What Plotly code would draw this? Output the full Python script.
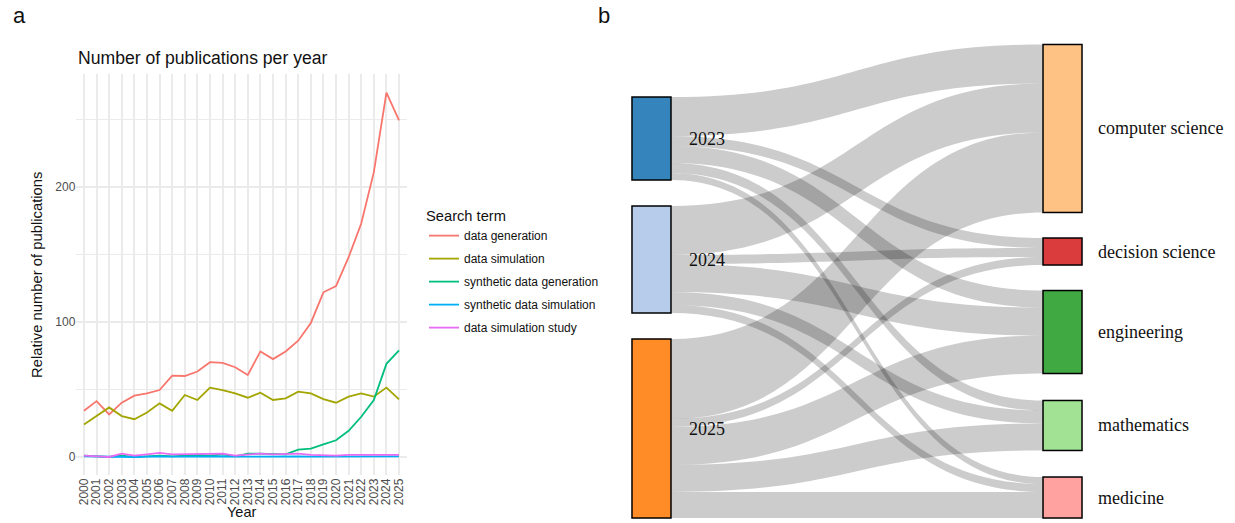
import plotly.graph_objects as go

# ---------------- data: panel a ----------------
years = list(range(2000, 2026))
series_names = ["data generation", "data simulation", "synthetic data generation",
                "synthetic data simulation", "data simulation study"]
data_generation = [34.2, 41.4, 31.5, 40.2, 45.4, 47.1, 49.6, 60.3, 60.0, 63.3, 70.2, 69.7, 66.5,
                   60.8, 78.2, 72.5, 78.2, 86.1, 99.3, 122.0, 126.6, 148.0, 173.0, 211.0, 270.0, 249.4]
data_simulation = [24.0, 30.3, 36.7, 30.3, 28.0, 33.0, 39.7, 34.2, 45.9, 42.2, 51.4, 49.6, 47.1,
                   43.9, 47.6, 42.2, 43.4, 48.4, 47.1, 42.9, 40.2, 44.7, 47.1, 44.7, 51.4, 42.7]
synthetic_data_generation = [1.0, 0.5, 0.0, 1.0, 0.0, 0.5, 1.0, 0.5, 1.0, 1.5, 1.0, 2.0, 0.5,
                             2.5, 2.5, 2.0, 2.0, 5.5, 6.2, 9.4, 12.4, 19.4, 29.8, 42.2, 69.0, 79.0]
synthetic_data_simulation = [0.5, 0.3, 0.0, 0.3, 0.0, 0.2, 0.5, 0.2, 0.3, 0.5, 0.3, 0.5, 0.2,
                             0.3, 0.5, 0.3, 0.5, 0.5, 0.3, 0.3, 0.3, 0.5, 0.5, 0.5, 0.5, 0.5]
data_simulation_study = [1.0, 0.5, 0.0, 2.5, 1.0, 2.0, 3.0, 2.0, 2.0, 2.5, 2.0, 2.5, 1.0,
                         2.0, 2.5, 2.0, 2.0, 2.5, 1.5, 1.0, 1.0, 1.5, 1.5, 1.5, 1.5, 1.5]
y_ticks = [0, 100, 200]

# ---------------- data: panel b ----------------
source_years = ["2023", "2024", "2025"]
subjects = ["computer science", "decision science", "engineering", "mathematics", "medicine"]
flows_2023 = [39, 10, 17, 10, 7]
flows_2024 = [49, 9, 28, 13, 8]
flows_2025 = [80, 8, 38, 27, 26]

# ---------------- styles / layout constants ----------------
W, H = 1235, 523
line_colors = ["#F8766D", "#A3A500", "#00BF7D", "#00B0F6", "#E76BF3"]
node_fill = ["rgba(31,119,180,0.9)", "rgba(174,199,232,0.9)", "rgba(255,127,14,0.9)",
             "rgba(255,187,120,0.9)", "rgba(214,39,40,0.9)", "rgba(44,160,44,0.9)",
             "rgba(152,223,138,0.9)", "rgba(255,152,150,0.9)"]
node_stroke = ["#0f3a58", "#556171", "#7d3e07", "#7d5c3b", "#691314", "#164e16", "#4b6d44", "#7d4b4a"]
node_x_layout = [0.0433] * 3 + [0.9567] * 5
node_y_layout = [0.1977, 0.4535, 0.8108, 0.1765, 0.4366, 0.6068, 0.8044, 0.9567]
SANS = "Liberation Sans, Arial, sans-serif"
SERIF = "Liberation Serif, Times New Roman, serif"

def px_x(p):
    return p / W

def px_y(p):
    return 1 - p / H

fig = go.Figure()

all_series = [data_generation, data_simulation, synthetic_data_generation,
              synthetic_data_simulation, data_simulation_study]
for name, vals, col in zip(series_names, all_series, line_colors):
    fig.add_trace(go.Scatter(x=years, y=vals, mode="lines", name=name, legendgroup=name,
                             line=dict(color=col, width=1.8), xaxis="x", yaxis="y"))

# sankey
labels = source_years + subjects
src, tgt, val = [], [], []
for i, flows in enumerate([flows_2023, flows_2024, flows_2025]):
    for j, v in enumerate(flows):
        src.append(i)
        tgt.append(len(source_years) + j)
        val.append(v)

sk_dom_x = [px_x(632), px_x(1082)]
sk_dom_y = [px_y(518), px_y(45)]
fig.add_trace(go.Sankey(
    domain=dict(x=sk_dom_x, y=sk_dom_y),
    arrangement="fixed",
    node=dict(label=labels, x=node_x_layout, y=node_y_layout, pad=26, thickness=39,
              color=node_fill, line=dict(color=node_stroke, width=1.5)),
    link=dict(source=src, target=tgt, value=val, color="rgba(0,0,0,0.2)"),
    textfont=dict(color="rgba(0,0,0,0)", size=1),
))

annotations = []
# sankey labels
for k, lab in enumerate(labels):
    yp = sk_dom_y[1] - node_y_layout[k] * (sk_dom_y[1] - sk_dom_y[0])
    if k < len(source_years):
        xp = px_x(687)
    else:
        xp = px_x(1096)
    annotations.append(dict(text=lab, x=xp, y=yp, xref="paper", yref="paper", xanchor="left",
                            yanchor="middle", showarrow=False,
                            font=dict(family=SERIF, size=18, color="#111111")))

annotations += [
    dict(text="a", x=px_x(11), y=px_y(30), xanchor="left", yanchor="bottom"),
    dict(text="b", x=px_x(596), y=px_y(30), xanchor="left", yanchor="bottom"),
]
for a in annotations[-2:]:
    a.update(xref="paper", yref="paper", showarrow=False, font=dict(family=SANS, size=22, color="#111111"))

annotations += [
    dict(text="Number of publications per year", x=px_x(76), y=px_y(58), xanchor="left", yanchor="middle",
         xref="paper", yref="paper", showarrow=False, font=dict(family=SANS, size=17.6, color="#111111")),
    dict(text="Relative number of publications", x=px_x(37), y=px_y(275), xanchor="center", yanchor="middle",
         textangle=-90, xref="paper", yref="paper", showarrow=False,
         font=dict(family=SANS, size=14.8, color="#111111")),
    dict(text="Year", x=px_x(241.5), y=px_y(522), xanchor="center", yanchor="bottom",
         xref="paper", yref="paper", showarrow=False, font=dict(family=SANS, size=14.5, color="#111111")),
]

fig.update_layout(
    width=W, height=H,
    margin=dict(l=0, r=0, t=0, b=0),
    paper_bgcolor="white", plot_bgcolor="white",
    font=dict(family=SANS),
    xaxis=dict(domain=[px_x(76.4), px_x(406.6)], range=[1999.4, 2025.6],
               tickmode="array", tickvals=years, ticktext=[str(y) for y in years],
               tickangle=-90, tickfont=dict(size=12, color="#4D4D4D"),
               showgrid=True, gridcolor="#EBEBEB", gridwidth=1.5,
               zeroline=False, showline=False, ticks="", anchor="y"),
    yaxis=dict(domain=[px_y(475.2), px_y(74.3)], range=[-13.5, 283.5],
               tickmode="array", tickvals=y_ticks, ticktext=[str(v) for v in y_ticks],
               tickfont=dict(size=12, color="#4D4D4D"),
               showgrid=True, gridcolor="#EBEBEB", gridwidth=1.5,
               minor=dict(tick0=50, dtick=100, showgrid=True, gridcolor="#EBEBEB", gridwidth=0.8),
               zeroline=False, showline=False, ticks="", anchor="x"),
    legend=dict(x=px_x(424), y=px_y(202), xanchor="left", yanchor="top",
                title=dict(text="Search term", font=dict(size=14.7, color="#111111")),
                font=dict(size=12, color="#111111"), tracegroupgap=4,
                bgcolor="rgba(0,0,0,0)", itemwidth=30),
    annotations=annotations,
)

fig.write_html("out.html", config={"displayModeBar": False},
               post_script="document.body.style.margin='0';document.body.style.overflow='hidden';")
